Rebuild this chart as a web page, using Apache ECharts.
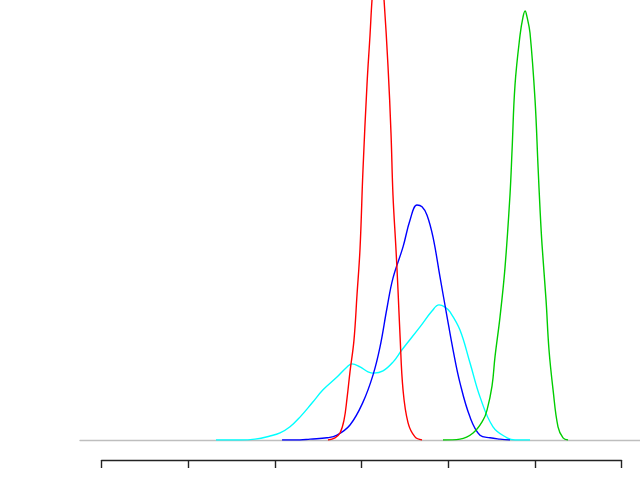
<!DOCTYPE html>
<html>
<head>
<meta charset="utf-8">
<script src="https://cdn.jsdelivr.net/npm/echarts@6/dist/echarts.min.js"></script>
<style>
  html, body { margin: 0; padding: 0; background: #fff; }
  #chart { width: 640px; height: 480px; }
</style>
</head>
<body>
<div id="chart"></div>
<script>
// axis ticks (labels are cut off below the picture)
const tickValues = [0, 1, 2, 3, 4, 5, 6]

// red density
const redX = [2.613, 2.694, 2.752, 2.798, 2.833, 2.867, 2.913, 2.948, 2.983, 3.017, 3.063, 3.098, 3.121,
  3.156, 3.190, 3.225, 3.260, 3.306, 3.340, 3.363, 3.398, 3.421, 3.444, 3.479, 3.537, 3.617, 3.698]
const redY = [0, 0.005, 0.016, 0.045, 0.095, 0.155, 0.227, 0.330, 0.436, 0.614, 0.807, 0.920, 1.000,
  1.086, 1.109, 1.086, 1.000, 0.848, 0.698, 0.557, 0.432, 0.341, 0.239, 0.114, 0.039, 0.007, 0]

// green density
const greenX = [3.940, 4.136, 4.287, 4.402, 4.448, 4.506, 4.540, 4.598, 4.656, 4.713, 4.737, 4.771, 4.829,
  4.863, 4.887, 4.910, 4.944, 5.002, 5.037, 5.060, 5.083, 5.129, 5.163, 5.210, 5.267, 5.325, 5.383]
const greenY = [0, 0.002, 0.016, 0.045, 0.068, 0.123, 0.189, 0.280, 0.393, 0.557, 0.659, 0.807, 0.920,
  0.961, 0.975, 0.961, 0.925, 0.773, 0.620, 0.523, 0.443, 0.318, 0.205, 0.114, 0.030, 0.005, 0]

// blue density
const blueX = [2.083, 2.290, 2.406, 2.602, 2.717, 2.867, 3.017, 3.133, 3.213, 3.294, 3.363, 3.479, 3.560,
  3.640, 3.698, 3.756, 3.825, 3.906, 3.987, 4.056, 4.136, 4.252, 4.367, 4.483, 4.598, 4.713]
const blueY = [0, 0, 0.002, 0.005, 0.011, 0.034, 0.086, 0.148, 0.211, 0.300, 0.368, 0.439, 0.500,
  0.534, 0.530, 0.511, 0.461, 0.370, 0.280, 0.205, 0.130, 0.052, 0.011, 0.005, 0.002, 0]

// cyan density
const cyanX = [1.321, 1.598, 1.771, 1.944, 2.060, 2.175, 2.290, 2.429, 2.556, 2.717, 2.833, 2.890, 2.983,
  3.075, 3.144, 3.248, 3.363, 3.467, 3.675, 3.813, 3.894, 3.963, 4.021, 4.136, 4.252, 4.367, 4.517,
  4.679, 4.771, 4.944]
const cyanY = [0, 0, 0.002, 0.009, 0.016, 0.030, 0.052, 0.084, 0.114, 0.143, 0.166, 0.173, 0.166,
  0.155, 0.152, 0.157, 0.177, 0.205, 0.257, 0.293, 0.307, 0.302, 0.291, 0.250, 0.175, 0.098, 0.030,
  0.005, 0, 0]

const pairs = (xs, ys) => xs.map((x, i) => [x, ys[i]])

const densityLine = (name, color, xs, ys) => ({
  name: name,
  type: 'line',
  xAxisIndex: 0,
  yAxisIndex: 0,
  smooth: 0.4,
  showSymbol: false,
  silent: true,
  clip: true,
  lineStyle: { color: color, width: 1.4 },
  data: pairs(xs, ys)
})

const chart = echarts.init(document.getElementById('chart'), null, { renderer: 'canvas' })
chart.setOption({
  backgroundColor: '#fff',
  animation: false,
  grid: [
    { left: 80, top: 0, width: 560, height: 440 },
    { left: 101.5, top: 440, width: 520, height: 20 }
  ],
  xAxis: [{
    gridIndex: 0,
    type: 'value',
    min: -0.248,
    max: 6.213,
    axisLine: { show: true, onZero: true, lineStyle: { color: '#bebebe', width: 1.4 } },
    axisTick: { show: false },
    axisLabel: { show: false },
    splitLine: { show: false }
  }, {
    gridIndex: 1,
    type: 'value',
    position: 'bottom',
    min: tickValues[0],
    max: tickValues[tickValues.length - 1],
    interval: 1,
    axisLine: { show: true, lineStyle: { color: '#222', width: 1.4 } },
    axisTick: { show: true, length: 8, inside: false, lineStyle: { color: '#222', width: 1.4 } },
    axisLabel: { show: false },
    splitLine: { show: false }
  }],
  yAxis: [{
    gridIndex: 0,
    type: 'value',
    min: 0,
    max: 1,
    show: false
  }, {
    gridIndex: 1,
    type: 'value',
    show: false
  }],
  series: [
    densityLine('cyan', '#00ffff', cyanX, cyanY),
    densityLine('blue', '#0000ff', blueX, blueY),
    densityLine('green', '#00cd00', greenX, greenY),
    densityLine('red', '#ff0000', redX, redY)
  ]
})
</script>
</body>
</html>
